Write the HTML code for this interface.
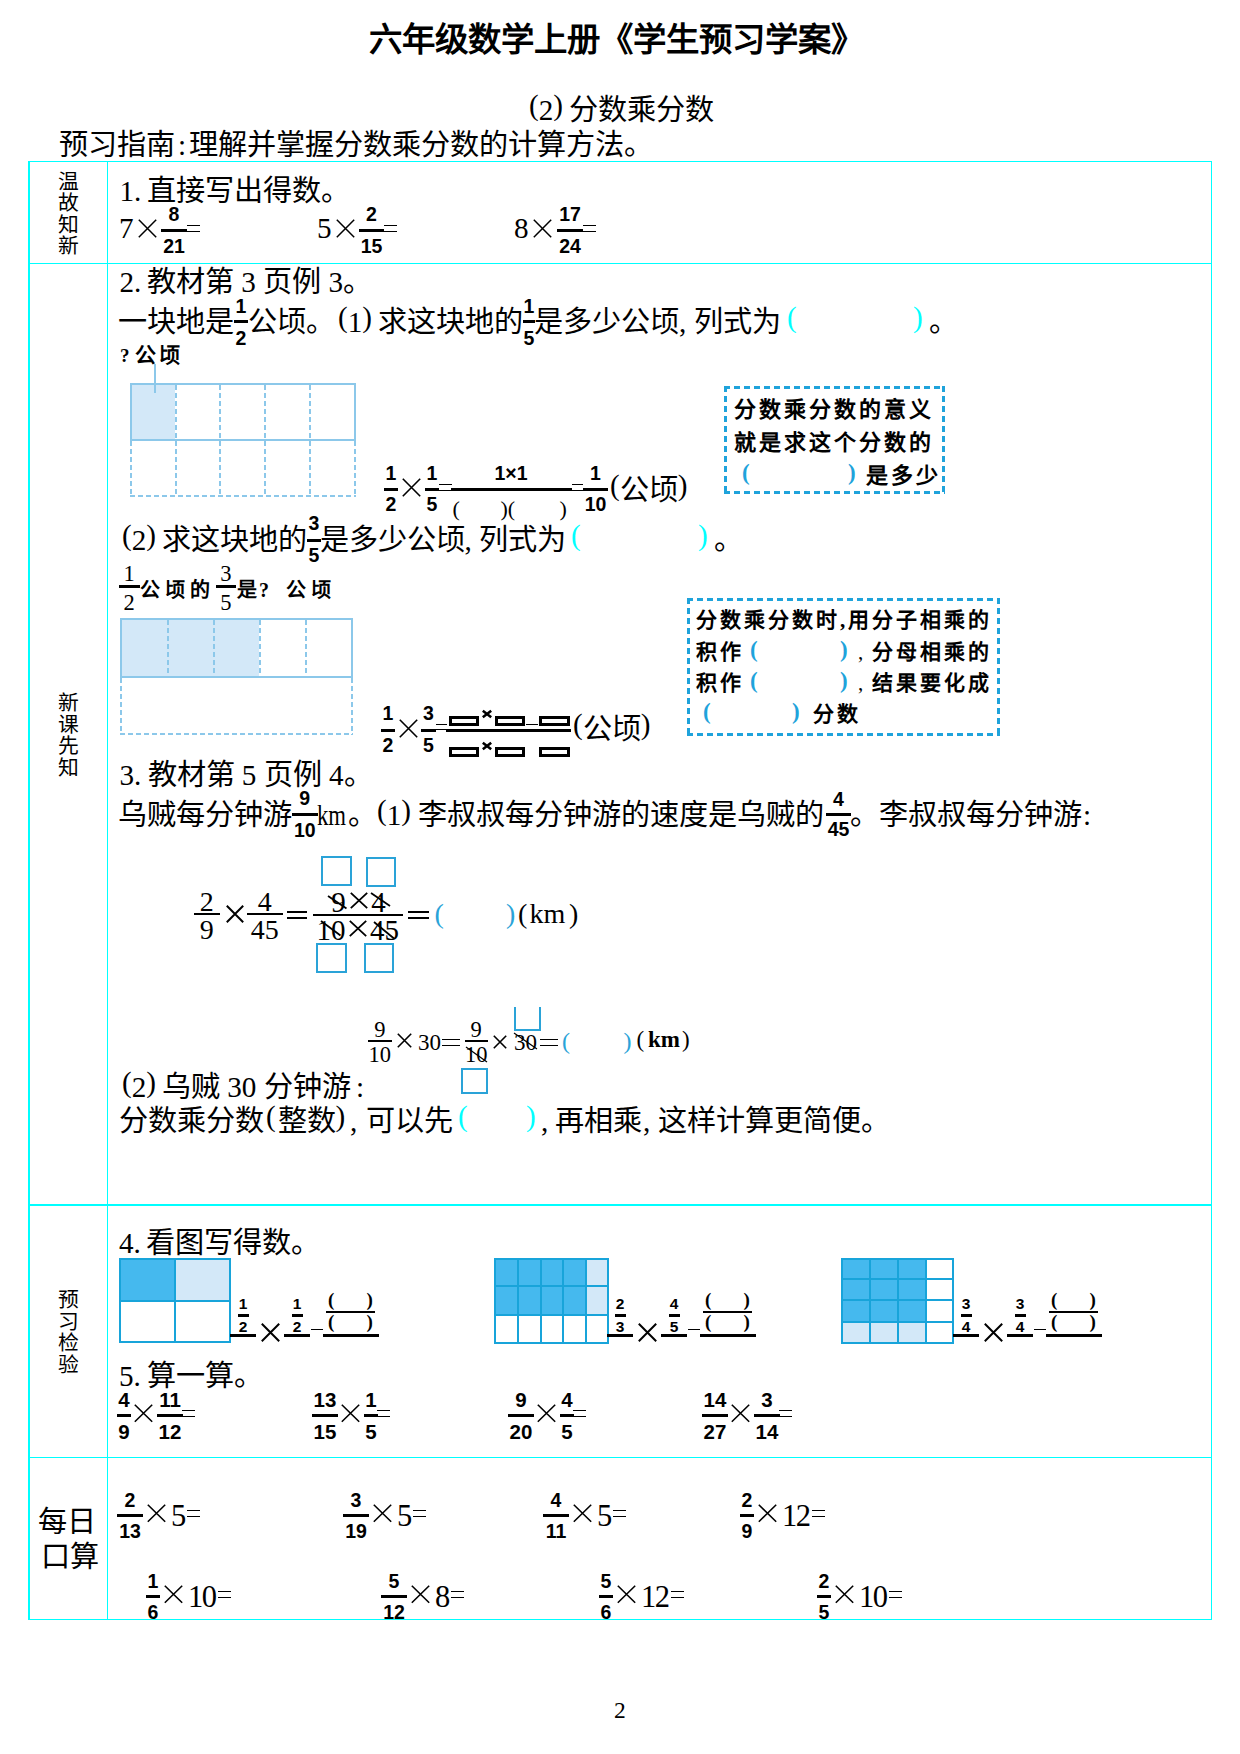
<!DOCTYPE html>
<html lang="zh-CN"><head><meta charset="utf-8"><title>六年级数学上册</title>
<style>
html,body{margin:0;padding:0;background:#fff}
body{width:1240px;height:1754px;position:relative;overflow:hidden;font-family:"Liberation Serif",serif;color:#000}
.a{position:absolute;white-space:pre;line-height:1}
.c{text-align:center}
.p{position:relative;top:-0.17em}
.r{position:absolute}
svg.a{overflow:visible}
</style></head><body>
<div class="a" style="left:369.0px;top:23.3px;font-size:33.4px;font-weight:bold;">六年级数学上册《学生预习学案》</div>
<div class="a" style="left:529.0px;top:96.0px;font-size:29.17px;"><span class="p">(</span>2<span class="p">)</span></div>
<div class="a" style="left:569.0px;top:96.0px;font-size:29.17px;">分数乘分数</div>
<div class="a" style="left:58.5px;top:131.0px;font-size:29.17px;">预习指南</div>
<div class="a" style="left:178.0px;top:131.0px;font-size:29.17px;">:</div>
<div class="a" style="left:189.0px;top:131.0px;font-size:29.17px;">理解并掌握分数乘分数的计算方法。</div>
<div class="r" style="left:28px;top:161px;width:2px;height:1459px;background:#00ffff;"></div>
<div class="r" style="left:1211px;top:161px;width:1px;height:1459px;background:#00ffff;"></div>
<div class="r" style="left:28px;top:161px;width:1184px;height:1px;background:#00ffff;"></div>
<div class="r" style="left:28px;top:263px;width:1184px;height:1px;background:#00ffff;"></div>
<div class="r" style="left:28px;top:1204px;width:1184px;height:2px;background:#00ffff;"></div>
<div class="r" style="left:28px;top:1457px;width:1184px;height:1px;background:#00ffff;"></div>
<div class="r" style="left:28px;top:1619px;width:1184px;height:1px;background:#00ffff;"></div>
<div class="r" style="left:107px;top:161px;width:1px;height:1459px;background:#00ffff;"></div>
<div class="a" style="left:57.5px;top:171.5px;font-size:20.8px;">温</div>
<div class="a" style="left:57.5px;top:193.1px;font-size:20.8px;">故</div>
<div class="a" style="left:57.5px;top:214.7px;font-size:20.8px;">知</div>
<div class="a" style="left:57.5px;top:236.3px;font-size:20.8px;">新</div>
<div class="a" style="left:57.5px;top:693.0px;font-size:20.8px;">新</div>
<div class="a" style="left:57.5px;top:714.6px;font-size:20.8px;">课</div>
<div class="a" style="left:57.5px;top:736.2px;font-size:20.8px;">先</div>
<div class="a" style="left:57.5px;top:757.8px;font-size:20.8px;">知</div>
<div class="a" style="left:57.5px;top:1290.0px;font-size:20.8px;">预</div>
<div class="a" style="left:57.5px;top:1311.6px;font-size:20.8px;">习</div>
<div class="a" style="left:57.5px;top:1333.2px;font-size:20.8px;">检</div>
<div class="a" style="left:57.5px;top:1354.8px;font-size:20.8px;">验</div>
<div class="a" style="left:38.0px;top:1507.5px;font-size:29.17px;">每日</div>
<div class="a" style="left:41.0px;top:1543.0px;font-size:29.17px;">口算</div>
<div class="a" style="left:119.5px;top:177.2px;font-size:29.17px;">1.</div>
<div class="a" style="left:147.0px;top:177.2px;font-size:29.17px;">直接写出得数。</div>
<div class="a" style="left:119.0px;top:214.0px;font-size:29.17px;">7</div>
<svg class="a" style="left:137.5px;top:219px" width="19" height="19" viewBox="0 0 19 19"><path d="M0.8 0.8L18.2 18.2M18.2 0.8L0.8 18.2" stroke="#000" stroke-width="1.5" fill="none"/></svg>
<div class="r" style="left:161px;top:229px;width:26px;height:3px;background:#000;"></div>
<div class="a c" style="left:114.0px;top:204.8px;width:120px;font-size:19.5px;font-family:'Liberation Sans',sans-serif;font-weight:bold;">8</div>
<div class="a c" style="left:114.0px;top:236.8px;width:120px;font-size:19.5px;font-family:'Liberation Sans',sans-serif;font-weight:bold;">21</div>
<div class="r" style="left:187px;top:225px;width:13px;height:1.3px;background:#000;"></div>
<div class="r" style="left:187px;top:231px;width:13px;height:1.3px;background:#000;"></div>
<div class="a" style="left:317.0px;top:214.0px;font-size:29.17px;">5</div>
<svg class="a" style="left:335.5px;top:219px" width="19" height="19" viewBox="0 0 19 19"><path d="M0.8 0.8L18.2 18.2M18.2 0.8L0.8 18.2" stroke="#000" stroke-width="1.5" fill="none"/></svg>
<div class="r" style="left:359px;top:229px;width:25px;height:3px;background:#000;"></div>
<div class="a c" style="left:311.5px;top:204.8px;width:120px;font-size:19.5px;font-family:'Liberation Sans',sans-serif;font-weight:bold;">2</div>
<div class="a c" style="left:311.5px;top:236.8px;width:120px;font-size:19.5px;font-family:'Liberation Sans',sans-serif;font-weight:bold;">15</div>
<div class="r" style="left:384px;top:225px;width:13px;height:1.3px;background:#000;"></div>
<div class="r" style="left:384px;top:231px;width:13px;height:1.3px;background:#000;"></div>
<div class="a" style="left:514.0px;top:214.0px;font-size:29.17px;">8</div>
<svg class="a" style="left:532.5px;top:219px" width="19" height="19" viewBox="0 0 19 19"><path d="M0.8 0.8L18.2 18.2M18.2 0.8L0.8 18.2" stroke="#000" stroke-width="1.5" fill="none"/></svg>
<div class="r" style="left:557px;top:229px;width:26px;height:3px;background:#000;"></div>
<div class="a c" style="left:510.0px;top:204.8px;width:120px;font-size:19.5px;font-family:'Liberation Sans',sans-serif;font-weight:bold;">17</div>
<div class="a c" style="left:510.0px;top:236.8px;width:120px;font-size:19.5px;font-family:'Liberation Sans',sans-serif;font-weight:bold;">24</div>
<div class="r" style="left:583px;top:225px;width:13px;height:1.3px;background:#000;"></div>
<div class="r" style="left:583px;top:231px;width:13px;height:1.3px;background:#000;"></div>
<div class="a" style="left:119.5px;top:268.0px;font-size:29.17px;">2.</div>
<div class="a" style="left:147.0px;top:268.0px;font-size:29.17px;">教材第 3 页例 3。</div>
<div class="a" style="left:118.0px;top:307.5px;font-size:29.17px;">一块地是</div>
<div class="a" style="left:247.5px;top:307.5px;font-size:29.17px;">公顷。</div>
<div class="a" style="left:338.0px;top:307.5px;font-size:29.17px;"><span class="p">(</span>1<span class="p">)</span></div>
<div class="a" style="left:377.5px;top:307.5px;font-size:29.17px;">求这块地的</div>
<div class="a" style="left:534.0px;top:307.5px;font-size:29.17px;">是多少公顷, 列式为</div>
<div class="a" style="left:787.0px;top:307.5px;font-size:29.17px;color:#00ffff;"><span class="p">(</span></div>
<div class="a" style="left:913.0px;top:307.5px;font-size:29.17px;color:#00ffff;"><span class="p">)</span></div>
<div class="a" style="left:929.0px;top:307.5px;font-size:29.17px;">。</div>
<div class="r" style="left:234px;top:320px;width:14px;height:3px;background:#000;"></div>
<div class="a c" style="left:181.0px;top:296.8px;width:120px;font-size:19.5px;font-family:'Liberation Sans',sans-serif;font-weight:bold;">1</div>
<div class="a c" style="left:181.0px;top:328.8px;width:120px;font-size:19.5px;font-family:'Liberation Sans',sans-serif;font-weight:bold;">2</div>
<div class="r" style="left:523px;top:320px;width:12px;height:3px;background:#000;"></div>
<div class="a c" style="left:469.0px;top:296.8px;width:120px;font-size:19.5px;font-family:'Liberation Sans',sans-serif;font-weight:bold;">1</div>
<div class="a c" style="left:469.0px;top:328.8px;width:120px;font-size:19.5px;font-family:'Liberation Sans',sans-serif;font-weight:bold;">5</div>
<div class="a" style="left:120.0px;top:345.7px;font-size:19px;font-weight:bold;">?</div>
<div class="a" style="left:135.0px;top:344.9px;font-size:21px;font-weight:bold;letter-spacing:3px;">公顷</div>
<div class="r" style="left:130px;top:383px;width:45px;height:57px;background:#d3e8f8;"></div>
<div class="r" style="left:130px;top:383px;width:226px;height:2px;background:#8cc8ea;"></div>
<div class="r" style="left:130px;top:439px;width:226px;height:2px;background:#8cc8ea;"></div>
<div class="r" style="left:130px;top:383px;width:2px;height:58px;background:#8cc8ea;"></div>
<div class="r" style="left:354px;top:383px;width:2px;height:58px;background:#8cc8ea;"></div>
<div class="r" style="left:175px;top:385px;width:2px;height:111px;background:repeating-linear-gradient(to bottom,#8cc8ea 0 5px,transparent 5px 8px)"></div>
<div class="r" style="left:219px;top:385px;width:2px;height:111px;background:repeating-linear-gradient(to bottom,#8cc8ea 0 5px,transparent 5px 8px)"></div>
<div class="r" style="left:264px;top:385px;width:2px;height:111px;background:repeating-linear-gradient(to bottom,#8cc8ea 0 5px,transparent 5px 8px)"></div>
<div class="r" style="left:309px;top:385px;width:2px;height:111px;background:repeating-linear-gradient(to bottom,#8cc8ea 0 5px,transparent 5px 8px)"></div>
<div class="r" style="left:130px;top:441px;width:2px;height:55px;background:repeating-linear-gradient(to bottom,#8cc8ea 0 5px,transparent 5px 8px)"></div>
<div class="r" style="left:354px;top:441px;width:2px;height:55px;background:repeating-linear-gradient(to bottom,#8cc8ea 0 5px,transparent 5px 8px)"></div>
<div class="r" style="left:130px;top:495px;width:226px;height:2px;background:repeating-linear-gradient(to right,#8cc8ea 0 5px,transparent 5px 8px)"></div>
<div class="r" style="left:154px;top:364px;width:2px;height:29px;background:#8cc8ea;"></div>
<div class="r" style="left:384px;top:488px;width:14px;height:3px;background:#000;"></div>
<div class="a c" style="left:331.0px;top:463.8px;width:120px;font-size:19.5px;font-family:'Liberation Sans',sans-serif;font-weight:bold;">1</div>
<div class="a c" style="left:331.0px;top:495.3px;width:120px;font-size:19.5px;font-family:'Liberation Sans',sans-serif;font-weight:bold;">2</div>
<svg class="a" style="left:402px;top:478px" width="19" height="19" viewBox="0 0 19 19"><path d="M0.8 0.8L18.2 18.2M18.2 0.8L0.8 18.2" stroke="#000" stroke-width="1.6" fill="none"/></svg>
<div class="r" style="left:425px;top:488px;width:14px;height:3px;background:#000;"></div>
<div class="a c" style="left:372.0px;top:463.8px;width:120px;font-size:19.5px;font-family:'Liberation Sans',sans-serif;font-weight:bold;">1</div>
<div class="a c" style="left:372.0px;top:495.3px;width:120px;font-size:19.5px;font-family:'Liberation Sans',sans-serif;font-weight:bold;">5</div>
<div class="r" style="left:439px;top:484px;width:13px;height:1.3px;background:#000;"></div>
<div class="r" style="left:439px;top:489.5px;width:13px;height:1.3px;background:#000;"></div>
<div class="r" style="left:451px;top:488px;width:121px;height:3px;background:#000;"></div>
<div class="a c" style="left:451.0px;top:463.8px;width:120px;font-size:19.5px;font-family:'Liberation Sans',sans-serif;font-weight:bold;">1×1</div>
<div class="a" style="left:452.5px;top:497.5px;font-size:22px;">(</div>
<div class="a" style="left:500.5px;top:497.5px;font-size:22px;">)(</div>
<div class="a" style="left:559.5px;top:497.5px;font-size:22px;">)</div>
<div class="r" style="left:572px;top:484px;width:11px;height:1.3px;background:#000;"></div>
<div class="r" style="left:572px;top:489.5px;width:11px;height:1.3px;background:#000;"></div>
<div class="r" style="left:583px;top:488px;width:25px;height:3px;background:#000;"></div>
<div class="a c" style="left:535.5px;top:463.8px;width:120px;font-size:19.5px;font-family:'Liberation Sans',sans-serif;font-weight:bold;">1</div>
<div class="a c" style="left:535.5px;top:495.3px;width:120px;font-size:19.5px;font-family:'Liberation Sans',sans-serif;font-weight:bold;">10</div>
<div class="a" style="left:610.0px;top:476.0px;font-size:29.17px;"><span class="p">(</span>公顷<span class="p">)</span></div>
<div class="r" style="left:724px;top:386px;width:221px;height:3px;background:repeating-linear-gradient(to right,#1fa3db 0 6px,transparent 6px 10px)"></div>
<div class="r" style="left:724px;top:491px;width:221px;height:3px;background:repeating-linear-gradient(to right,#1fa3db 0 6px,transparent 6px 10px)"></div>
<div class="r" style="left:724px;top:386px;width:3px;height:108px;background:repeating-linear-gradient(to bottom,#1fa3db 0 6px,transparent 6px 10px)"></div>
<div class="r" style="left:942px;top:386px;width:3px;height:108px;background:repeating-linear-gradient(to bottom,#1fa3db 0 6px,transparent 6px 10px)"></div>
<div class="a" style="left:734.0px;top:399.0px;font-size:22px;font-weight:bold;letter-spacing:3px;">分数乘分数的意义</div>
<div class="a" style="left:734.0px;top:432.0px;font-size:22px;font-weight:bold;letter-spacing:3px;">就是求这个分数的</div>
<div class="a" style="left:742.0px;top:461.1px;font-size:23px;font-weight:bold;color:#1fa3db;">(</div>
<div class="a" style="left:848.0px;top:461.1px;font-size:23px;font-weight:bold;color:#1fa3db;">)</div>
<div class="a" style="left:866.0px;top:465.0px;font-size:22px;font-weight:bold;letter-spacing:3px;">是多少</div>
<div class="a" style="left:122.0px;top:525.5px;font-size:29.17px;"><span class="p">(</span>2<span class="p">)</span></div>
<div class="a" style="left:162.0px;top:525.5px;font-size:29.17px;">求这块地的</div>
<div class="a" style="left:319.5px;top:525.5px;font-size:29.17px;">是多少公顷, 列式为</div>
<div class="a" style="left:571.0px;top:525.5px;font-size:29.17px;color:#00ffff;"><span class="p">(</span></div>
<div class="a" style="left:698.0px;top:525.5px;font-size:29.17px;color:#00ffff;"><span class="p">)</span></div>
<div class="a" style="left:714.0px;top:525.5px;font-size:29.17px;">。</div>
<div class="r" style="left:307px;top:539px;width:14px;height:3px;background:#000;"></div>
<div class="a c" style="left:254.0px;top:514.3px;width:120px;font-size:19.5px;font-family:'Liberation Sans',sans-serif;font-weight:bold;">3</div>
<div class="a c" style="left:254.0px;top:545.8px;width:120px;font-size:19.5px;font-family:'Liberation Sans',sans-serif;font-weight:bold;">5</div>
<div class="r" style="left:119px;top:585px;width:20.5px;height:2.5px;background:#000;"></div>
<div class="a c" style="left:69.2px;top:563.0px;width:120px;font-size:22.5px;font-family:'Liberation Serif',serif;">1</div>
<div class="a c" style="left:69.2px;top:592.2px;width:120px;font-size:22.5px;font-family:'Liberation Serif',serif;">2</div>
<div class="a" style="left:140.0px;top:579.8px;font-size:20px;font-weight:bold;letter-spacing:5px;">公顷的</div>
<div class="r" style="left:215.5px;top:585px;width:20.5px;height:2.5px;background:#000;"></div>
<div class="a c" style="left:165.8px;top:563.0px;width:120px;font-size:22.5px;font-family:'Liberation Serif',serif;">3</div>
<div class="a c" style="left:165.8px;top:592.2px;width:120px;font-size:22.5px;font-family:'Liberation Serif',serif;">5</div>
<div class="a" style="left:237.0px;top:579.8px;font-size:20px;font-weight:bold;">是</div>
<div class="a" style="left:259.0px;top:579.8px;font-size:20px;font-weight:bold;">?</div>
<div class="a" style="left:286.0px;top:579.8px;font-size:20px;font-weight:bold;letter-spacing:5px;">公顷</div>
<div class="r" style="left:120px;top:618px;width:139px;height:59px;background:#d3e8f8;"></div>
<div class="r" style="left:120px;top:618px;width:233px;height:2px;background:#8cc8ea;"></div>
<div class="r" style="left:120px;top:676px;width:233px;height:2px;background:#8cc8ea;"></div>
<div class="r" style="left:120px;top:618px;width:2px;height:60px;background:#8cc8ea;"></div>
<div class="r" style="left:351px;top:618px;width:2px;height:60px;background:#8cc8ea;"></div>
<div class="r" style="left:167px;top:620px;width:2px;height:56px;background:repeating-linear-gradient(to bottom,#8cc8ea 0 5px,transparent 5px 8px)"></div>
<div class="r" style="left:213px;top:620px;width:2px;height:56px;background:repeating-linear-gradient(to bottom,#8cc8ea 0 5px,transparent 5px 8px)"></div>
<div class="r" style="left:259px;top:620px;width:2px;height:56px;background:repeating-linear-gradient(to bottom,#8cc8ea 0 5px,transparent 5px 8px)"></div>
<div class="r" style="left:305px;top:620px;width:2px;height:56px;background:repeating-linear-gradient(to bottom,#8cc8ea 0 5px,transparent 5px 8px)"></div>
<div class="r" style="left:120px;top:678px;width:2px;height:57px;background:repeating-linear-gradient(to bottom,#8cc8ea 0 5px,transparent 5px 8px)"></div>
<div class="r" style="left:351px;top:678px;width:2px;height:57px;background:repeating-linear-gradient(to bottom,#8cc8ea 0 5px,transparent 5px 8px)"></div>
<div class="r" style="left:120px;top:733px;width:233px;height:2px;background:repeating-linear-gradient(to right,#8cc8ea 0 5px,transparent 5px 8px)"></div>
<div class="r" style="left:381px;top:728.5px;width:14px;height:3px;background:#000;"></div>
<div class="a c" style="left:328.0px;top:704.3px;width:120px;font-size:19.5px;font-family:'Liberation Sans',sans-serif;font-weight:bold;">1</div>
<div class="a c" style="left:328.0px;top:735.8px;width:120px;font-size:19.5px;font-family:'Liberation Sans',sans-serif;font-weight:bold;">2</div>
<svg class="a" style="left:399px;top:719px" width="19" height="19" viewBox="0 0 19 19"><path d="M0.8 0.8L18.2 18.2M18.2 0.8L0.8 18.2" stroke="#000" stroke-width="1.6" fill="none"/></svg>
<div class="r" style="left:421px;top:728.5px;width:15px;height:3px;background:#000;"></div>
<div class="a c" style="left:368.5px;top:704.3px;width:120px;font-size:19.5px;font-family:'Liberation Sans',sans-serif;font-weight:bold;">3</div>
<div class="a c" style="left:368.5px;top:735.8px;width:120px;font-size:19.5px;font-family:'Liberation Sans',sans-serif;font-weight:bold;">5</div>
<div class="r" style="left:436px;top:724px;width:11px;height:1.3px;background:#000;"></div>
<div class="r" style="left:436px;top:729px;width:11px;height:1.3px;background:#000;"></div>
<div class="r" style="left:446px;top:728.5px;width:125px;height:3px;background:#000;"></div>
<div class="r" style="left:449px;top:716px;width:30px;height:10px;border:3px solid #000;box-sizing:border-box"></div>
<div class="r" style="left:449px;top:747px;width:30px;height:10px;border:3px solid #000;box-sizing:border-box"></div>
<div class="r" style="left:495px;top:716px;width:30px;height:10px;border:3px solid #000;box-sizing:border-box"></div>
<div class="r" style="left:495px;top:747px;width:30px;height:10px;border:3px solid #000;box-sizing:border-box"></div>
<div class="r" style="left:539px;top:716px;width:31px;height:10px;border:3px solid #000;box-sizing:border-box"></div>
<div class="r" style="left:539px;top:747px;width:31px;height:10px;border:3px solid #000;box-sizing:border-box"></div>
<svg class="a" style="left:481.5px;top:710px" width="10" height="8" viewBox="0 0 10 8"><path d="M0.8 0.8L9.2 7.2M9.2 0.8L0.8 7.2" stroke="#000" stroke-width="2.6" fill="none"/></svg>
<svg class="a" style="left:481.5px;top:742px" width="10" height="8" viewBox="0 0 10 8"><path d="M0.8 0.8L9.2 7.2M9.2 0.8L0.8 7.2" stroke="#000" stroke-width="2.6" fill="none"/></svg>
<div class="r" style="left:526px;top:724px;width:12px;height:1.3px;background:#000;"></div>
<div class="r" style="left:526px;top:729px;width:12px;height:1.3px;background:#000;"></div>
<div class="a" style="left:573.0px;top:715.0px;font-size:29.17px;"><span class="p">(</span>公顷<span class="p">)</span></div>
<div class="r" style="left:687px;top:598px;width:313px;height:3px;background:repeating-linear-gradient(to right,#1fa3db 0 6px,transparent 6px 10px)"></div>
<div class="r" style="left:687px;top:733px;width:313px;height:3px;background:repeating-linear-gradient(to right,#1fa3db 0 6px,transparent 6px 10px)"></div>
<div class="r" style="left:687px;top:598px;width:3px;height:138px;background:repeating-linear-gradient(to bottom,#1fa3db 0 6px,transparent 6px 10px)"></div>
<div class="r" style="left:997px;top:598px;width:3px;height:138px;background:repeating-linear-gradient(to bottom,#1fa3db 0 6px,transparent 6px 10px)"></div>
<div class="a" style="left:696.0px;top:610.4px;font-size:21px;font-weight:bold;letter-spacing:3px;">分数乘分数时,用分子相乘的</div>
<div class="a" style="left:696.0px;top:641.9px;font-size:21px;font-weight:bold;letter-spacing:3px;">积作</div>
<div class="a" style="left:750.0px;top:637.6px;font-size:23px;font-weight:bold;color:#1fa3db;">(</div>
<div class="a" style="left:840.0px;top:637.6px;font-size:23px;font-weight:bold;color:#1fa3db;">)</div>
<div class="a" style="left:858.0px;top:641.9px;font-size:21px;">,</div>
<div class="a" style="left:872.0px;top:641.9px;font-size:21px;font-weight:bold;letter-spacing:3px;">分母相乘的</div>
<div class="a" style="left:696.0px;top:672.9px;font-size:21px;font-weight:bold;letter-spacing:3px;">积作</div>
<div class="a" style="left:750.0px;top:668.6px;font-size:23px;font-weight:bold;color:#1fa3db;">(</div>
<div class="a" style="left:840.0px;top:668.6px;font-size:23px;font-weight:bold;color:#1fa3db;">)</div>
<div class="a" style="left:858.0px;top:672.9px;font-size:21px;">,</div>
<div class="a" style="left:872.0px;top:672.9px;font-size:21px;font-weight:bold;letter-spacing:3px;">结果要化成</div>
<div class="a" style="left:703.0px;top:699.6px;font-size:23px;font-weight:bold;color:#1fa3db;">(</div>
<div class="a" style="left:792.0px;top:699.6px;font-size:23px;font-weight:bold;color:#1fa3db;">)</div>
<div class="a" style="left:813.0px;top:703.9px;font-size:21px;font-weight:bold;letter-spacing:3px;">分数</div>
<div class="a" style="left:119.5px;top:761.0px;font-size:29.17px;">3.</div>
<div class="a" style="left:147.5px;top:761.0px;font-size:29.17px;">教材第 5 页例 4。</div>
<div class="a" style="left:118.0px;top:801.0px;font-size:29.17px;">乌贼每分钟游</div>
<div class="a" style="left:348.0px;top:801.0px;font-size:29.17px;">。</div>
<div class="a" style="left:377.0px;top:801.0px;font-size:29.17px;"><span class="p">(</span>1<span class="p">)</span></div>
<div class="a" style="left:418.0px;top:801.0px;font-size:29.17px;">李叔叔每分钟游的速度是乌贼的</div>
<div class="a" style="left:850.0px;top:801.0px;font-size:29.17px;">。</div>
<div class="a" style="left:879.0px;top:801.0px;font-size:29.17px;">李叔叔每分钟游</div>
<div class="a" style="left:1083.0px;top:801.0px;font-size:29.17px;">:</div>
<div class="a" style="left:317px;top:801px;font-size:29.17px;transform:scaleX(0.78);transform-origin:0 0">km</div>
<div class="r" style="left:291.5px;top:812.5px;width:26.5px;height:3px;background:#000;"></div>
<div class="a c" style="left:244.8px;top:789.3px;width:120px;font-size:19.5px;font-family:'Liberation Sans',sans-serif;font-weight:bold;">9</div>
<div class="a c" style="left:244.8px;top:820.8px;width:120px;font-size:19.5px;font-family:'Liberation Sans',sans-serif;font-weight:bold;">10</div>
<div class="r" style="left:826px;top:812.5px;width:25px;height:3px;background:#000;"></div>
<div class="a c" style="left:778.5px;top:790.3px;width:120px;font-size:19.5px;font-family:'Liberation Sans',sans-serif;font-weight:bold;">4</div>
<div class="a c" style="left:778.5px;top:819.8px;width:120px;font-size:19.5px;font-family:'Liberation Sans',sans-serif;font-weight:bold;">45</div>
<div class="r" style="left:194px;top:912.5px;width:25.5px;height:2.5px;background:#000;"></div>
<div class="a c" style="left:146.8px;top:887.8px;width:120px;font-size:28px;font-family:'Liberation Serif',serif;">2</div>
<div class="a c" style="left:146.8px;top:916.2px;width:120px;font-size:28px;font-family:'Liberation Serif',serif;">9</div>
<svg class="a" style="left:225.5px;top:905px" width="18" height="18" viewBox="0 0 18 18"><path d="M0.8 0.8L17.2 17.2M17.2 0.8L0.8 17.2" stroke="#000" stroke-width="2" fill="none"/></svg>
<div class="r" style="left:247px;top:912.5px;width:35.5px;height:2.5px;background:#000;"></div>
<div class="a c" style="left:204.8px;top:887.8px;width:120px;font-size:28px;font-family:'Liberation Serif',serif;">4</div>
<div class="a c" style="left:204.8px;top:916.2px;width:120px;font-size:28px;font-family:'Liberation Serif',serif;">45</div>
<div class="r" style="left:287px;top:911px;width:20px;height:2.3px;background:#000;"></div>
<div class="r" style="left:287px;top:917px;width:20px;height:2.3px;background:#000;"></div>
<div class="r" style="left:313px;top:913.5px;width:90px;height:2px;background:#000;"></div>
<div class="a c" style="left:278.5px;top:888.1px;width:120px;font-size:29px;font-family:'Liberation Serif',serif;">9</div>
<svg class="a" style="left:350px;top:892px" width="18" height="17" viewBox="0 0 18 17"><path d="M0.8 0.8L17.2 16.2M17.2 0.8L0.8 16.2" stroke="#000" stroke-width="1.8" fill="none"/></svg>
<div class="a c" style="left:318.5px;top:888.1px;width:120px;font-size:29px;font-family:'Liberation Serif',serif;">4</div>
<div class="a c" style="left:271.0px;top:916.1px;width:120px;font-size:29px;font-family:'Liberation Serif',serif;">10</div>
<svg class="a" style="left:348.5px;top:920px" width="18" height="17" viewBox="0 0 18 17"><path d="M0.8 0.8L17.2 16.2M17.2 0.8L0.8 16.2" stroke="#000" stroke-width="1.8" fill="none"/></svg>
<div class="a c" style="left:324.5px;top:916.1px;width:120px;font-size:29px;font-family:'Liberation Serif',serif;">45</div>
<svg class="a" style="left:325.5px;top:893.5px" width="22.5" height="16.5"><path d="M2.0 2.0L20.5 14.5" stroke="#000" stroke-width="1.8" fill="none"/></svg>
<svg class="a" style="left:369px;top:891px" width="23" height="17"><path d="M2 2L21 15" stroke="#000" stroke-width="1.8" fill="none"/></svg>
<svg class="a" style="left:319px;top:918.5px" width="23.5" height="18.5"><path d="M2 2.0L21.5 16.5" stroke="#000" stroke-width="1.8" fill="none"/></svg>
<svg class="a" style="left:371.5px;top:920px" width="24.0" height="20.5"><path d="M2.0 2L22.0 18.5" stroke="#000" stroke-width="1.8" fill="none"/></svg>
<div class="r" style="left:408px;top:911px;width:21px;height:2.3px;background:#000;"></div>
<div class="r" style="left:408px;top:917px;width:21px;height:2.3px;background:#000;"></div>
<div class="a" style="left:434.5px;top:899.5px;font-size:28px;color:#2aa3d8;">(</div>
<div class="a" style="left:506.0px;top:899.5px;font-size:28px;color:#2aa3d8;">)</div>
<div class="a" style="left:518.0px;top:899.5px;font-size:28px;">(</div>
<div class="a" style="left:529.5px;top:899.5px;font-size:28px;">km</div>
<div class="a" style="left:569.0px;top:899.5px;font-size:28px;">)</div>
<div class="r" style="left:321px;top:856px;width:31px;height:30px;border:2.5px solid #2aa3d8;box-sizing:border-box"></div>
<div class="r" style="left:366px;top:857px;width:30px;height:30px;border:2.5px solid #2aa3d8;box-sizing:border-box"></div>
<div class="r" style="left:316px;top:943px;width:31px;height:30px;border:2.5px solid #2aa3d8;box-sizing:border-box"></div>
<div class="r" style="left:364px;top:943px;width:30px;height:30px;border:2.5px solid #2aa3d8;box-sizing:border-box"></div>
<div class="r" style="left:368px;top:1040px;width:23.5px;height:2px;background:#000;"></div>
<div class="a c" style="left:319.8px;top:1018.5px;width:120px;font-size:22.5px;font-family:'Liberation Serif',serif;">9</div>
<div class="a c" style="left:319.8px;top:1043.8px;width:120px;font-size:22.5px;font-family:'Liberation Serif',serif;">10</div>
<svg class="a" style="left:397px;top:1033px" width="15" height="15" viewBox="0 0 15 15"><path d="M0.8 0.8L14.2 14.2M14.2 0.8L0.8 14.2" stroke="#000" stroke-width="1.6" fill="none"/></svg>
<div class="a c" style="left:369.5px;top:1030.7px;width:120px;font-size:23px;font-family:'Liberation Serif',serif;">30</div>
<div class="r" style="left:442px;top:1039px;width:18px;height:1.3px;background:#000;"></div>
<div class="r" style="left:442px;top:1044.5px;width:18px;height:1.3px;background:#000;"></div>
<div class="r" style="left:465px;top:1040px;width:22.5px;height:2px;background:#000;"></div>
<div class="a c" style="left:416.2px;top:1018.5px;width:120px;font-size:22.5px;font-family:'Liberation Serif',serif;">9</div>
<div class="a c" style="left:416.2px;top:1043.8px;width:120px;font-size:22.5px;font-family:'Liberation Serif',serif;">10</div>
<svg class="a" style="left:464px;top:1045px" width="25" height="19"><path d="M2 2L23 17" stroke="#000" stroke-width="1.2" fill="none"/></svg>
<svg class="a" style="left:493px;top:1035px" width="14" height="14" viewBox="0 0 14 14"><path d="M0.8 0.8L13.2 13.2M13.2 0.8L0.8 13.2" stroke="#000" stroke-width="1.6" fill="none"/></svg>
<div class="a c" style="left:465.5px;top:1030.7px;width:120px;font-size:23px;font-family:'Liberation Serif',serif;">30</div>
<svg class="a" style="left:512px;top:1031px" width="27" height="20"><path d="M2 2L25 18" stroke="#000" stroke-width="1.2" fill="none"/></svg>
<div class="r" style="left:540px;top:1039px;width:18px;height:1.3px;background:#000;"></div>
<div class="r" style="left:540px;top:1044.5px;width:18px;height:1.3px;background:#000;"></div>
<div class="a" style="left:562.0px;top:1028.7px;font-size:24px;color:#2aa3d8;">(</div>
<div class="a" style="left:623.5px;top:1028.7px;font-size:24px;color:#2aa3d8;">)</div>
<div class="a" style="left:636.5px;top:1028.1px;font-size:23px;">(</div>
<div class="a" style="left:648.0px;top:1028.1px;font-size:23px;font-weight:bold;">km</div>
<div class="a" style="left:682.0px;top:1028.1px;font-size:23px;">)</div>
<div class="r" style="left:514px;top:1007px;width:2px;height:24px;background:#2aa3d8;"></div>
<div class="r" style="left:539px;top:1007px;width:2px;height:24px;background:#2aa3d8;"></div>
<div class="r" style="left:514px;top:1029px;width:27px;height:2px;background:#2aa3d8;"></div>
<div class="r" style="left:461px;top:1068px;width:27px;height:26px;border:2px solid #2aa3d8;box-sizing:border-box"></div>
<div class="a" style="left:122.0px;top:1073.0px;font-size:29.17px;"><span class="p">(</span>2<span class="p">)</span></div>
<div class="a" style="left:162.0px;top:1073.0px;font-size:29.17px;">乌贼 30 分钟游</div>
<div class="a" style="left:356.0px;top:1073.0px;font-size:29.17px;">:</div>
<div class="a" style="left:118.5px;top:1107.0px;font-size:29.17px;">分数乘分数</div>
<div class="a" style="left:266.0px;top:1107.0px;font-size:29.17px;"><span class="p">(</span></div>
<div class="a" style="left:278.0px;top:1107.0px;font-size:29.17px;">整数</div>
<div class="a" style="left:335.5px;top:1107.0px;font-size:29.17px;"><span class="p">)</span></div>
<div class="a" style="left:350.0px;top:1107.0px;font-size:29.17px;">,</div>
<div class="a" style="left:365.5px;top:1107.0px;font-size:29.17px;">可以先</div>
<div class="a" style="left:458.0px;top:1107.0px;font-size:29.17px;color:#00ffff;"><span class="p">(</span></div>
<div class="a" style="left:526.0px;top:1107.0px;font-size:29.17px;color:#00ffff;"><span class="p">)</span></div>
<div class="a" style="left:541.0px;top:1107.0px;font-size:29.17px;">,</div>
<div class="a" style="left:555.0px;top:1107.0px;font-size:29.17px;">再相乘</div>
<div class="a" style="left:643.0px;top:1107.0px;font-size:29.17px;">,</div>
<div class="a" style="left:657.5px;top:1107.0px;font-size:29.17px;">这样计算更简便。</div>
<div class="a" style="left:119.0px;top:1228.5px;font-size:29.17px;">4.</div>
<div class="a" style="left:146.0px;top:1228.5px;font-size:29.17px;">看图写得数。</div>
<div class="r" style="left:119px;top:1258px;width:56px;height:43px;background:#45b9ee;"></div>
<div class="r" style="left:175px;top:1258px;width:56px;height:43px;background:#d3e8f8;"></div>
<div class="r" style="left:119px;top:1258px;width:112px;height:85px;border:2px solid #18a4da;box-sizing:border-box"></div>
<div class="r" style="left:119px;top:1300px;width:112px;height:2px;background:#18a4da;"></div>
<div class="r" style="left:174px;top:1258px;width:2px;height:85px;background:#18a4da;"></div>
<div class="r" style="left:494px;top:1258px;width:91px;height:57px;background:#45b9ee;"></div>
<div class="r" style="left:585px;top:1258px;width:23px;height:57px;background:#d3e8f8;"></div>
<div class="r" style="left:494px;top:1258px;width:115px;height:86px;border:2px solid #18a4da;box-sizing:border-box"></div>
<div class="r" style="left:517px;top:1258px;width:1.5px;height:86px;background:#18a4da;"></div>
<div class="r" style="left:540px;top:1258px;width:1.5px;height:86px;background:#18a4da;"></div>
<div class="r" style="left:562px;top:1258px;width:1.5px;height:86px;background:#18a4da;"></div>
<div class="r" style="left:585px;top:1258px;width:1.5px;height:86px;background:#18a4da;"></div>
<div class="r" style="left:494px;top:1285px;width:115px;height:1.5px;background:#18a4da;"></div>
<div class="r" style="left:494px;top:1314px;width:115px;height:1.5px;background:#18a4da;"></div>
<div class="r" style="left:841px;top:1258px;width:84px;height:64px;background:#45b9ee;"></div>
<div class="r" style="left:841px;top:1321px;width:84px;height:22px;background:#d3e8f8;"></div>
<div class="r" style="left:841px;top:1258px;width:113px;height:86px;border:2px solid #18a4da;box-sizing:border-box"></div>
<div class="r" style="left:869px;top:1258px;width:1.5px;height:86px;background:#18a4da;"></div>
<div class="r" style="left:897px;top:1258px;width:1.5px;height:86px;background:#18a4da;"></div>
<div class="r" style="left:925px;top:1258px;width:1.5px;height:86px;background:#18a4da;"></div>
<div class="r" style="left:841px;top:1278px;width:113px;height:1.5px;background:#18a4da;"></div>
<div class="r" style="left:841px;top:1299px;width:113px;height:1.5px;background:#18a4da;"></div>
<div class="r" style="left:841px;top:1321px;width:113px;height:1.5px;background:#18a4da;"></div>
<div class="r" style="left:230px;top:1334px;width:26px;height:3px;background:#000;"></div>
<div class="r" style="left:237.5px;top:1314px;width:11.0px;height:3px;background:#000;"></div>
<div class="a c" style="left:183.0px;top:1295.7px;width:120px;font-size:15.5px;font-family:'Liberation Sans',sans-serif;font-weight:bold;">1</div>
<div class="a c" style="left:183.0px;top:1318.7px;width:120px;font-size:15.5px;font-family:'Liberation Sans',sans-serif;font-weight:bold;">2</div>
<svg class="a" style="left:261px;top:1323px" width="19" height="19" viewBox="0 0 19 19"><path d="M0.8 0.8L18.2 18.2M18.2 0.8L0.8 18.2" stroke="#000" stroke-width="2" fill="none"/></svg>
<div class="r" style="left:284px;top:1334px;width:26px;height:3px;background:#000;"></div>
<div class="r" style="left:291.5px;top:1314px;width:11.0px;height:3px;background:#000;"></div>
<div class="a c" style="left:237.0px;top:1295.7px;width:120px;font-size:15.5px;font-family:'Liberation Sans',sans-serif;font-weight:bold;">1</div>
<div class="a c" style="left:237.0px;top:1318.7px;width:120px;font-size:15.5px;font-family:'Liberation Sans',sans-serif;font-weight:bold;">2</div>
<div class="r" style="left:311px;top:1329px;width:12px;height:1px;background:#000;"></div>
<div class="r" style="left:323px;top:1334px;width:56px;height:3px;background:#000;"></div>
<div class="a" style="left:328.0px;top:1290.2px;font-size:19px;font-weight:bold;">(</div>
<div class="a" style="left:366.5px;top:1290.2px;font-size:19px;font-weight:bold;">)</div>
<div class="r" style="left:326px;top:1311px;width:49px;height:2px;background:#000;"></div>
<div class="a" style="left:328.0px;top:1312.2px;font-size:19px;font-weight:bold;">(</div>
<div class="a" style="left:366.5px;top:1312.2px;font-size:19px;font-weight:bold;">)</div>
<div class="r" style="left:607px;top:1334px;width:26px;height:3px;background:#000;"></div>
<div class="r" style="left:614.5px;top:1314px;width:11.0px;height:3px;background:#000;"></div>
<div class="a c" style="left:560.0px;top:1295.7px;width:120px;font-size:15.5px;font-family:'Liberation Sans',sans-serif;font-weight:bold;">2</div>
<div class="a c" style="left:560.0px;top:1318.7px;width:120px;font-size:15.5px;font-family:'Liberation Sans',sans-serif;font-weight:bold;">3</div>
<svg class="a" style="left:638px;top:1323px" width="19" height="19" viewBox="0 0 19 19"><path d="M0.8 0.8L18.2 18.2M18.2 0.8L0.8 18.2" stroke="#000" stroke-width="2" fill="none"/></svg>
<div class="r" style="left:661px;top:1334px;width:26px;height:3px;background:#000;"></div>
<div class="r" style="left:668.5px;top:1314px;width:11.0px;height:3px;background:#000;"></div>
<div class="a c" style="left:614.0px;top:1295.7px;width:120px;font-size:15.5px;font-family:'Liberation Sans',sans-serif;font-weight:bold;">4</div>
<div class="a c" style="left:614.0px;top:1318.7px;width:120px;font-size:15.5px;font-family:'Liberation Sans',sans-serif;font-weight:bold;">5</div>
<div class="r" style="left:688px;top:1329px;width:12px;height:1px;background:#000;"></div>
<div class="r" style="left:700px;top:1334px;width:56px;height:3px;background:#000;"></div>
<div class="a" style="left:705.0px;top:1290.2px;font-size:19px;font-weight:bold;">(</div>
<div class="a" style="left:743.5px;top:1290.2px;font-size:19px;font-weight:bold;">)</div>
<div class="r" style="left:703px;top:1311px;width:49px;height:2px;background:#000;"></div>
<div class="a" style="left:705.0px;top:1312.2px;font-size:19px;font-weight:bold;">(</div>
<div class="a" style="left:743.5px;top:1312.2px;font-size:19px;font-weight:bold;">)</div>
<div class="r" style="left:953px;top:1334px;width:26px;height:3px;background:#000;"></div>
<div class="r" style="left:960.5px;top:1314px;width:11.0px;height:3px;background:#000;"></div>
<div class="a c" style="left:906.0px;top:1295.7px;width:120px;font-size:15.5px;font-family:'Liberation Sans',sans-serif;font-weight:bold;">3</div>
<div class="a c" style="left:906.0px;top:1318.7px;width:120px;font-size:15.5px;font-family:'Liberation Sans',sans-serif;font-weight:bold;">4</div>
<svg class="a" style="left:984px;top:1323px" width="19" height="19" viewBox="0 0 19 19"><path d="M0.8 0.8L18.2 18.2M18.2 0.8L0.8 18.2" stroke="#000" stroke-width="2" fill="none"/></svg>
<div class="r" style="left:1007px;top:1334px;width:26px;height:3px;background:#000;"></div>
<div class="r" style="left:1014.5px;top:1314px;width:11.0px;height:3px;background:#000;"></div>
<div class="a c" style="left:960.0px;top:1295.7px;width:120px;font-size:15.5px;font-family:'Liberation Sans',sans-serif;font-weight:bold;">3</div>
<div class="a c" style="left:960.0px;top:1318.7px;width:120px;font-size:15.5px;font-family:'Liberation Sans',sans-serif;font-weight:bold;">4</div>
<div class="r" style="left:1034px;top:1329px;width:12px;height:1px;background:#000;"></div>
<div class="r" style="left:1046px;top:1334px;width:56px;height:3px;background:#000;"></div>
<div class="a" style="left:1051.0px;top:1290.2px;font-size:19px;font-weight:bold;">(</div>
<div class="a" style="left:1089.5px;top:1290.2px;font-size:19px;font-weight:bold;">)</div>
<div class="r" style="left:1049px;top:1311px;width:49px;height:2px;background:#000;"></div>
<div class="a" style="left:1051.0px;top:1312.2px;font-size:19px;font-weight:bold;">(</div>
<div class="a" style="left:1089.5px;top:1312.2px;font-size:19px;font-weight:bold;">)</div>
<div class="a" style="left:119.0px;top:1361.5px;font-size:29.17px;">5.</div>
<div class="a" style="left:147.0px;top:1361.5px;font-size:29.17px;">算一算。</div>
<div class="r" style="left:117px;top:1414px;width:14px;height:3px;background:#000;"></div>
<div class="a c" style="left:64.0px;top:1389.5px;width:120px;font-size:20.5px;font-family:'Liberation Sans',sans-serif;font-weight:bold;">4</div>
<div class="a c" style="left:64.0px;top:1421.6px;width:120px;font-size:20.5px;font-family:'Liberation Sans',sans-serif;font-weight:bold;">9</div>
<svg class="a" style="left:134px;top:1404px" width="19" height="18.5" viewBox="0 0 19 18.5"><path d="M0.8 0.8L18.2 17.7M18.2 0.8L0.8 17.7" stroke="#000" stroke-width="1.6" fill="none"/></svg>
<div class="r" style="left:157px;top:1414px;width:26px;height:3px;background:#000;"></div>
<div class="a c" style="left:110.0px;top:1389.5px;width:120px;font-size:20.5px;font-family:'Liberation Sans',sans-serif;font-weight:bold;">11</div>
<div class="a c" style="left:110.0px;top:1421.6px;width:120px;font-size:20.5px;font-family:'Liberation Sans',sans-serif;font-weight:bold;">12</div>
<div class="r" style="left:182px;top:1410px;width:13px;height:1.3px;background:#000;"></div>
<div class="r" style="left:182px;top:1415.6px;width:13px;height:1.3px;background:#000;"></div>
<div class="r" style="left:312px;top:1414px;width:26px;height:3px;background:#000;"></div>
<div class="a c" style="left:265.0px;top:1389.5px;width:120px;font-size:20.5px;font-family:'Liberation Sans',sans-serif;font-weight:bold;">13</div>
<div class="a c" style="left:265.0px;top:1421.6px;width:120px;font-size:20.5px;font-family:'Liberation Sans',sans-serif;font-weight:bold;">15</div>
<svg class="a" style="left:341px;top:1404px" width="19" height="18.5" viewBox="0 0 19 18.5"><path d="M0.8 0.8L18.2 17.7M18.2 0.8L0.8 17.7" stroke="#000" stroke-width="1.6" fill="none"/></svg>
<div class="r" style="left:364px;top:1414px;width:14px;height:3px;background:#000;"></div>
<div class="a c" style="left:311.0px;top:1389.5px;width:120px;font-size:20.5px;font-family:'Liberation Sans',sans-serif;font-weight:bold;">1</div>
<div class="a c" style="left:311.0px;top:1421.6px;width:120px;font-size:20.5px;font-family:'Liberation Sans',sans-serif;font-weight:bold;">5</div>
<div class="r" style="left:377px;top:1410px;width:13px;height:1.3px;background:#000;"></div>
<div class="r" style="left:377px;top:1415.6px;width:13px;height:1.3px;background:#000;"></div>
<div class="r" style="left:508px;top:1414px;width:26px;height:3px;background:#000;"></div>
<div class="a c" style="left:461.0px;top:1389.5px;width:120px;font-size:20.5px;font-family:'Liberation Sans',sans-serif;font-weight:bold;">9</div>
<div class="a c" style="left:461.0px;top:1421.6px;width:120px;font-size:20.5px;font-family:'Liberation Sans',sans-serif;font-weight:bold;">20</div>
<svg class="a" style="left:537px;top:1404px" width="19" height="18.5" viewBox="0 0 19 18.5"><path d="M0.8 0.8L18.2 17.7M18.2 0.8L0.8 17.7" stroke="#000" stroke-width="1.6" fill="none"/></svg>
<div class="r" style="left:560px;top:1414px;width:14px;height:3px;background:#000;"></div>
<div class="a c" style="left:507.0px;top:1389.5px;width:120px;font-size:20.5px;font-family:'Liberation Sans',sans-serif;font-weight:bold;">4</div>
<div class="a c" style="left:507.0px;top:1421.6px;width:120px;font-size:20.5px;font-family:'Liberation Sans',sans-serif;font-weight:bold;">5</div>
<div class="r" style="left:573px;top:1410px;width:13px;height:1.3px;background:#000;"></div>
<div class="r" style="left:573px;top:1415.6px;width:13px;height:1.3px;background:#000;"></div>
<div class="r" style="left:702px;top:1414px;width:26px;height:3px;background:#000;"></div>
<div class="a c" style="left:655.0px;top:1389.5px;width:120px;font-size:20.5px;font-family:'Liberation Sans',sans-serif;font-weight:bold;">14</div>
<div class="a c" style="left:655.0px;top:1421.6px;width:120px;font-size:20.5px;font-family:'Liberation Sans',sans-serif;font-weight:bold;">27</div>
<svg class="a" style="left:731px;top:1404px" width="19" height="18.5" viewBox="0 0 19 18.5"><path d="M0.8 0.8L18.2 17.7M18.2 0.8L0.8 17.7" stroke="#000" stroke-width="1.6" fill="none"/></svg>
<div class="r" style="left:754px;top:1414px;width:26px;height:3px;background:#000;"></div>
<div class="a c" style="left:707.0px;top:1389.5px;width:120px;font-size:20.5px;font-family:'Liberation Sans',sans-serif;font-weight:bold;">3</div>
<div class="a c" style="left:707.0px;top:1421.6px;width:120px;font-size:20.5px;font-family:'Liberation Sans',sans-serif;font-weight:bold;">14</div>
<div class="r" style="left:779px;top:1410px;width:13px;height:1.3px;background:#000;"></div>
<div class="r" style="left:779px;top:1415.6px;width:13px;height:1.3px;background:#000;"></div>
<div class="r" style="left:117px;top:1514px;width:26px;height:3px;background:#000;"></div>
<div class="a c" style="left:70.0px;top:1490.8px;width:120px;font-size:19.5px;font-family:'Liberation Sans',sans-serif;font-weight:bold;">2</div>
<div class="a c" style="left:70.0px;top:1521.8px;width:120px;font-size:19.5px;font-family:'Liberation Sans',sans-serif;font-weight:bold;">13</div>
<svg class="a" style="left:146.5px;top:1504px" width="19" height="18.5" viewBox="0 0 19 18.5"><path d="M0.8 0.8L18.2 17.7M18.2 0.8L0.8 17.7" stroke="#000" stroke-width="1.6" fill="none"/></svg>
<div class="a" style="left:171.0px;top:1500.5px;font-size:30.5px;letter-spacing:-1.5px">5</div>
<div class="r" style="left:186.8px;top:1510px;width:13.0px;height:1.3px;background:#000;"></div>
<div class="r" style="left:186.8px;top:1515.6px;width:13.0px;height:1.3px;background:#000;"></div>
<div class="r" style="left:343px;top:1514px;width:26px;height:3px;background:#000;"></div>
<div class="a c" style="left:296.0px;top:1490.8px;width:120px;font-size:19.5px;font-family:'Liberation Sans',sans-serif;font-weight:bold;">3</div>
<div class="a c" style="left:296.0px;top:1521.8px;width:120px;font-size:19.5px;font-family:'Liberation Sans',sans-serif;font-weight:bold;">19</div>
<svg class="a" style="left:372.5px;top:1504px" width="19" height="18.5" viewBox="0 0 19 18.5"><path d="M0.8 0.8L18.2 17.7M18.2 0.8L0.8 17.7" stroke="#000" stroke-width="1.6" fill="none"/></svg>
<div class="a" style="left:397.0px;top:1500.5px;font-size:30.5px;letter-spacing:-1.5px">5</div>
<div class="r" style="left:412.8px;top:1510px;width:13.0px;height:1.3px;background:#000;"></div>
<div class="r" style="left:412.8px;top:1515.6px;width:13.0px;height:1.3px;background:#000;"></div>
<div class="r" style="left:543px;top:1514px;width:26px;height:3px;background:#000;"></div>
<div class="a c" style="left:496.0px;top:1490.8px;width:120px;font-size:19.5px;font-family:'Liberation Sans',sans-serif;font-weight:bold;">4</div>
<div class="a c" style="left:496.0px;top:1521.8px;width:120px;font-size:19.5px;font-family:'Liberation Sans',sans-serif;font-weight:bold;">11</div>
<svg class="a" style="left:572.5px;top:1504px" width="19" height="18.5" viewBox="0 0 19 18.5"><path d="M0.8 0.8L18.2 17.7M18.2 0.8L0.8 17.7" stroke="#000" stroke-width="1.6" fill="none"/></svg>
<div class="a" style="left:597.0px;top:1500.5px;font-size:30.5px;letter-spacing:-1.5px">5</div>
<div class="r" style="left:612.8px;top:1510px;width:13.0px;height:1.3px;background:#000;"></div>
<div class="r" style="left:612.8px;top:1515.6px;width:13.0px;height:1.3px;background:#000;"></div>
<div class="r" style="left:740px;top:1514px;width:14px;height:3px;background:#000;"></div>
<div class="a c" style="left:687.0px;top:1490.8px;width:120px;font-size:19.5px;font-family:'Liberation Sans',sans-serif;font-weight:bold;">2</div>
<div class="a c" style="left:687.0px;top:1521.8px;width:120px;font-size:19.5px;font-family:'Liberation Sans',sans-serif;font-weight:bold;">9</div>
<svg class="a" style="left:757.5px;top:1504px" width="19" height="18.5" viewBox="0 0 19 18.5"><path d="M0.8 0.8L18.2 17.7M18.2 0.8L0.8 17.7" stroke="#000" stroke-width="1.6" fill="none"/></svg>
<div class="a" style="left:782.0px;top:1500.5px;font-size:30.5px;letter-spacing:-1.5px">12</div>
<div class="r" style="left:811.6px;top:1510px;width:13.0px;height:1.3px;background:#000;"></div>
<div class="r" style="left:811.6px;top:1515.6px;width:13.0px;height:1.3px;background:#000;"></div>
<div class="r" style="left:146px;top:1595px;width:14px;height:3px;background:#000;"></div>
<div class="a c" style="left:93.0px;top:1571.8px;width:120px;font-size:19.5px;font-family:'Liberation Sans',sans-serif;font-weight:bold;">1</div>
<div class="a c" style="left:93.0px;top:1602.8px;width:120px;font-size:19.5px;font-family:'Liberation Sans',sans-serif;font-weight:bold;">6</div>
<svg class="a" style="left:163.5px;top:1585px" width="19" height="18.5" viewBox="0 0 19 18.5"><path d="M0.8 0.8L18.2 17.7M18.2 0.8L0.8 17.7" stroke="#000" stroke-width="1.6" fill="none"/></svg>
<div class="a" style="left:188.0px;top:1581.5px;font-size:30.5px;letter-spacing:-1.5px">10</div>
<div class="r" style="left:217.6px;top:1591px;width:13.0px;height:1.3px;background:#000;"></div>
<div class="r" style="left:217.6px;top:1596.6px;width:13.0px;height:1.3px;background:#000;"></div>
<div class="r" style="left:381px;top:1595px;width:26px;height:3px;background:#000;"></div>
<div class="a c" style="left:334.0px;top:1571.8px;width:120px;font-size:19.5px;font-family:'Liberation Sans',sans-serif;font-weight:bold;">5</div>
<div class="a c" style="left:334.0px;top:1602.8px;width:120px;font-size:19.5px;font-family:'Liberation Sans',sans-serif;font-weight:bold;">12</div>
<svg class="a" style="left:410.5px;top:1585px" width="19" height="18.5" viewBox="0 0 19 18.5"><path d="M0.8 0.8L18.2 17.7M18.2 0.8L0.8 17.7" stroke="#000" stroke-width="1.6" fill="none"/></svg>
<div class="a" style="left:435.0px;top:1581.5px;font-size:30.5px;letter-spacing:-1.5px">8</div>
<div class="r" style="left:450.8px;top:1591px;width:13.0px;height:1.3px;background:#000;"></div>
<div class="r" style="left:450.8px;top:1596.6px;width:13.0px;height:1.3px;background:#000;"></div>
<div class="r" style="left:599px;top:1595px;width:14px;height:3px;background:#000;"></div>
<div class="a c" style="left:546.0px;top:1571.8px;width:120px;font-size:19.5px;font-family:'Liberation Sans',sans-serif;font-weight:bold;">5</div>
<div class="a c" style="left:546.0px;top:1602.8px;width:120px;font-size:19.5px;font-family:'Liberation Sans',sans-serif;font-weight:bold;">6</div>
<svg class="a" style="left:616.5px;top:1585px" width="19" height="18.5" viewBox="0 0 19 18.5"><path d="M0.8 0.8L18.2 17.7M18.2 0.8L0.8 17.7" stroke="#000" stroke-width="1.6" fill="none"/></svg>
<div class="a" style="left:641.0px;top:1581.5px;font-size:30.5px;letter-spacing:-1.5px">12</div>
<div class="r" style="left:670.6px;top:1591px;width:13.0px;height:1.3px;background:#000;"></div>
<div class="r" style="left:670.6px;top:1596.6px;width:13.0px;height:1.3px;background:#000;"></div>
<div class="r" style="left:817px;top:1595px;width:14px;height:3px;background:#000;"></div>
<div class="a c" style="left:764.0px;top:1571.8px;width:120px;font-size:19.5px;font-family:'Liberation Sans',sans-serif;font-weight:bold;">2</div>
<div class="a c" style="left:764.0px;top:1602.8px;width:120px;font-size:19.5px;font-family:'Liberation Sans',sans-serif;font-weight:bold;">5</div>
<svg class="a" style="left:834.5px;top:1585px" width="19" height="18.5" viewBox="0 0 19 18.5"><path d="M0.8 0.8L18.2 17.7M18.2 0.8L0.8 17.7" stroke="#000" stroke-width="1.6" fill="none"/></svg>
<div class="a" style="left:859.0px;top:1581.5px;font-size:30.5px;letter-spacing:-1.5px">10</div>
<div class="r" style="left:888.6px;top:1591px;width:13.0px;height:1.3px;background:#000;"></div>
<div class="r" style="left:888.6px;top:1596.6px;width:13.0px;height:1.3px;background:#000;"></div>
<div class="a" style="left:614.0px;top:1699.4px;font-size:23.5px;">2</div>
</body></html>
